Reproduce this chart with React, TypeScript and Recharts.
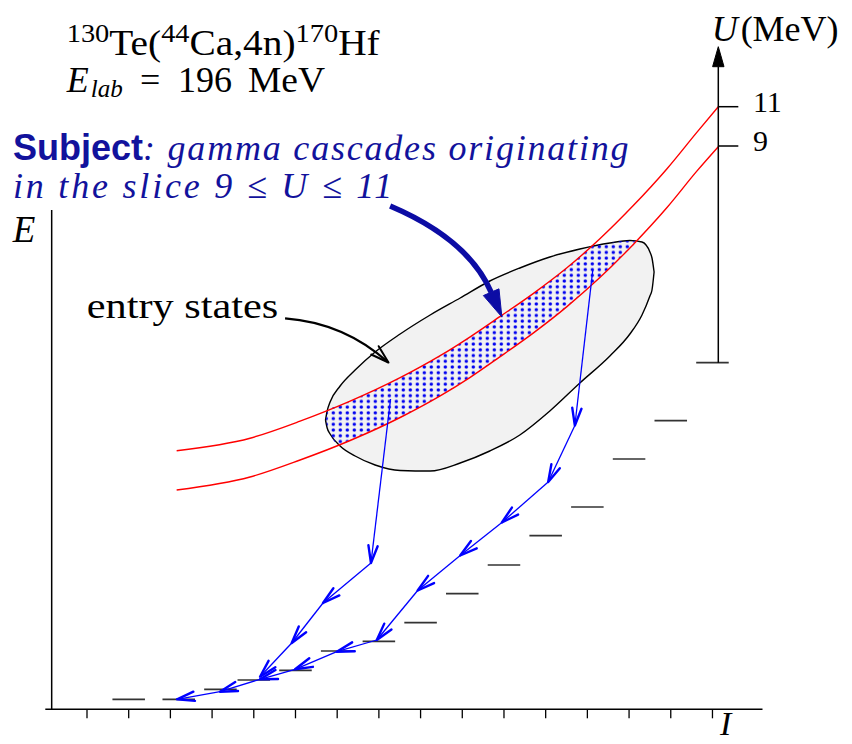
import {
  ComposedChart,
  XAxis,
  YAxis,
  Area,
  Line,
  ReferenceLine,
  ReferenceDot,
} from 'recharts'

// spin axis ticks
const spinTicks = [1, 2, 3, 4, 5, 6, 7, 8, 9, 10, 11, 12, 13, 14, 15, 16]

// yrast-like levels (spin I, energy E)
const levelI = [2, 3.2, 4.2, 5, 6, 7, 8, 9, 10, 11, 12, 13, 14, 15, 16]
const levelE = [1.0, 1.0, 2.0, 2.93, 3.9, 5.83, 6.8, 8.66, 11.56, 14.43, 17.36, 20.23, 25.03, 28.86, 34.66]

// constant-U contours, U = 11 and U = 9
const contourI = [3.15, 4.91, 6.11, 7.31, 8.51, 9.47, 10.19, 10.9, 11.7, 12.51, 13.3, 14.09, 14.91, 15.63, 16.14]
const contourU11 = [25.86, 27.11, 28.81, 30.81, 33.16, 35.36, 37.25, 39.26, 41.57, 44.15, 47.05, 50.32, 54.06, 57.72, 60.26]
const contourU9 = [21.93, 23.23, 24.93, 26.88, 29.18, 31.34, 33.2, 35.24, 37.62, 40.27, 43.17, 46.44, 50.18, 53.84, 56.26]

// entry-state population outline
const entryI = [6.72, 6.76, 6.83, 7.07, 7.43, 7.91, 8.51, 9.23, 9.95, 10.66, 11.38, 12.1, 12.82, 13.54, 14.02, 14.31, 14.5, 14.55, 14.6]
const entryTop = [28.93, 29.83, 30.73, 32.33, 33.93, 35.73, 37.53, 39.43, 41.13, 42.83, 44.13, 45.23, 46.03, 46.63, 46.88, 46.73, 45.73, 45.13, 43.73]
const entryBottom = [28.93, 28.13, 27.53, 26.33, 25.33, 24.43, 23.88, 23.83, 24.63, 25.83, 27.43, 29.83, 32.63, 35.33, 37.53, 39.43, 41.33, 41.93, 43.73]

// part of the entry region inside the 9 <= U <= 11 slice
const sliceI = [6.73, 6.78, 7.04, 7.55, 8.51, 9.47, 10.19, 10.9, 11.7, 12.51, 13.01, 13.11, 13.54, 13.9, 14.21]
const sliceTop = [28.93, 29.93, 30.37, 31.28, 33.16, 35.36, 37.25, 39.26, 41.57, 44.15, 46.0, 46.3, 46.63, 46.83, 46.78]
const sliceBottom = [28.93, 28.03, 26.53, 27.34, 29.18, 31.34, 33.2, 35.24, 37.62, 40.27, 42.12, 42.47, 44.16, 45.65, 46.78]

// gamma cascades, [I, E] of each state passed through
const cascadeA: [number, number][] = [[8.28, 31.03], [7.81, 14.63], [6.66, 10.63], [5.91, 6.63], [5.15, 3.26]]
const cascadeB: [number, number][] = [
  [13.13, 43.93], [12.7, 28.38], [12.06, 22.73], [10.95, 18.68], [9.95, 15.38], [8.93, 11.88],
  [7.95, 6.93], [6.99, 5.76], [5.99, 4.0], [5.15, 3.0], [4.19, 1.76], [3.16, 1.0],
]

// U scale drawn at the top level
const uAxisI = 16.14
const uAxisFrom = 34.66
const uAxisTo = 66.26
const uTickLabels = ['11', '9']
const uTickE = [60.26, 56.33]

const levelHalf = 0.39

const upperData = contourI.map((I, i) => ({ I, E: contourU11[i] }))
const lowerData = contourI.map((I, i) => ({ I, E: contourU9[i] }))
const entryData = entryI.map((I, i) => ({ I, range: [entryBottom[i], entryTop[i]] }))
const sliceData = sliceI.map((I, i) => ({ I, range: [sliceBottom[i], sliceTop[i]] }))

const serif = '"Liberation Serif", "Times New Roman", serif'
const sans = '"Liberation Sans", Arial, sans-serif'
const navy = '#12129c'

type ArrowStyle = {
  color: string
  width: number
  head: number
  spread?: number
  barb?: number
  halfWidth?: number
  filled?: boolean
  bend?: number
}

function makeArrow(s: ArrowStyle) {
  return function ArrowShape(p: any) {
    const { x1, y1, x2, y2 } = p
    const bend = s.bend ?? 0
    const cx = (x1 + x2) / 2 + bend * (y2 - y1)
    const cy = (y1 + y2) / 2 - bend * (x2 - x1)
    const tx = x2 - cx
    const ty = y2 - cy
    const len = Math.hypot(tx, ty) || 1
    const ux = tx / len
    const uy = ty / len
    if (s.filled) {
      const bx = x2 - s.head * ux
      const by = y2 - s.head * uy
      const hw = s.halfWidth ?? 5
      const head = `${x2},${y2} ${bx - hw * uy},${by + hw * ux} ${bx + hw * uy},${by - hw * ux}`
      return (
        <g>
          <path d={`M${x1},${y1} Q${cx},${cy} ${bx},${by}`} fill="none" stroke={s.color} strokeWidth={s.width} />
          <polygon points={head} fill={s.color} stroke={s.color} strokeWidth={1} strokeLinejoin="round" />
        </g>
      )
    }
    const a = ((s.spread ?? 15) * Math.PI) / 180
    const barb = (sign: number) => {
      const rx = ux * Math.cos(a) - sign * uy * Math.sin(a)
      const ry = sign * ux * Math.sin(a) + uy * Math.cos(a)
      return `M${x2},${y2} L${x2 - s.head * rx},${y2 - s.head * ry}`
    }
    return (
      <g>
        <path d={`M${x1},${y1} Q${cx},${cy} ${x2},${y2}`} fill="none" stroke={s.color} strokeWidth={s.width} />
        <path d={`${barb(1)} ${barb(-1)}`} fill="none" stroke={s.color} strokeWidth={s.barb ?? s.width} strokeLinecap="round" />
      </g>
    )
  }
}

const gammaArrow = makeArrow({ color: '#0000ff', width: 1.3, head: 18, spread: 15, barb: 2.4 })
const entryArrow = makeArrow({ color: '#000', width: 2.2, head: 19, spread: 17, barb: 2, bend: 0.17 })
const subjectArrow = makeArrow({ color: '#0c0ca4', width: 5.5, head: 27, halfWidth: 8.5, filled: true, bend: 0.2 })
const uArrow = makeArrow({ color: '#000', width: 1.5, head: 20, halfWidth: 5.7, filled: true })

function transitions(path: [number, number][]) {
  return path.slice(1).map((to, i) => ({ from: path[i], to }))
}

const textAt = (render: (x: number, y: number) => React.ReactNode) =>
  function TextShape(p: any) {
    return <g>{render(p.cx, p.cy)}</g>
  }

export default function App() {
  const gammas = [...transitions(cascadeA), ...transitions(cascadeB)]

  return (
    <div style={{ position: 'absolute', left: 0, top: 0, width: 852, height: 744, background: '#fff' }}>
      <ComposedChart
        width={852}
        height={744}
        margin={{ top: 9.3, right: 89.5, bottom: 4.7, left: 45.3 }}
      >
        <defs>
          <pattern id="slice-dots" patternUnits="userSpaceOnUse" x={0.8} y={3.15} width={7} height={5.73}>
            <circle cx={3.5} cy={2.86} r={1.75} fill="#0000f0" />
          </pattern>
        </defs>
        <XAxis
          type="number"
          dataKey="I"
          domain={[0, 17.2]}
          ticks={spinTicks}
          interval={0}
          tickFormatter={() => ''}
          tickSize={9}
          height={30}
          axisLine={{ stroke: '#000', strokeWidth: 1.5 }}
          tickLine={{ stroke: '#000', strokeWidth: 1.3 }}
          allowDataOverflow
        />
        <YAxis type="number" domain={[0, 70]} hide allowDataOverflow />

        <Area
          data={entryData}
          dataKey="range"
          type="monotone"
          stroke="#000"
          strokeWidth={1.4}
          fill="#f2f2f2"
          fillOpacity={1}
          dot={false}
          activeDot={false}
          isAnimationActive={false}
        />
        <Area
          data={sliceData}
          dataKey="range"
          type="monotone"
          stroke="none"
          fill="url(#slice-dots)"
          fillOpacity={1}
          dot={false}
          activeDot={false}
          isAnimationActive={false}
        />
        <Line data={upperData} dataKey="E" type="monotone" stroke="#ff0000" strokeWidth={1.4} dot={false} activeDot={false} isAnimationActive={false} />
        <Line data={lowerData} dataKey="E" type="monotone" stroke="#ff0000" strokeWidth={1.4} dot={false} activeDot={false} isAnimationActive={false} />

        {/* E axis */}
        <ReferenceLine segment={[{ x: 0.153, y: 0 }, { x: 0.153, y: 49.93 }]} stroke="#000" strokeWidth={1.5} />

        {levelI.map((I, i) => (
          <ReferenceLine
            key={`lvl-${i}`}
            segment={[{ x: I - levelHalf, y: levelE[i] }, { x: I + levelHalf, y: levelE[i] }]}
            stroke="#333"
            strokeWidth={1.7}
          />
        ))}

        {/* U scale */}
        <ReferenceLine segment={[{ x: uAxisI, y: uAxisFrom }, { x: uAxisI, y: uAxisTo }]} shape={uArrow} />
        {uTickE.map((E, i) => (
          <ReferenceLine
            key={`ut-${i}`}
            segment={[{ x: uAxisI, y: E }, { x: uAxisI + 0.48, y: E }]}
            stroke="#000"
            strokeWidth={1.5}
          />
        ))}

        {gammas.map((g, i) => (
          <ReferenceLine
            key={`g-${i}`}
            segment={[{ x: g.from[0], y: g.from[1] }, { x: g.to[0], y: g.to[1] }]}
            shape={gammaArrow}
          />
        ))}

        <ReferenceLine segment={[{ x: 5.75, y: 39.1 }, { x: 8.23, y: 34.68 }]} shape={entryArrow} />
        <ReferenceLine segment={[{ x: 8.27, y: 50.33 }, { x: 10.95, y: 39.23 }]} shape={subjectArrow} />

        <ReferenceDot
          x={0.513}
          y={65.43}
          r={0}
          ifOverflow="visible"
          shape={textAt((x, y) => (
            <text x={x} y={y} fontFamily={serif} fontSize={36} fill="#000" textLength={313} lengthAdjust="spacingAndGlyphs">
              <tspan dy={-13} fontSize={26}>130</tspan>
              <tspan dy={13}>Te(</tspan>
              <tspan dy={-13} fontSize={26}>44</tspan>
              <tspan dy={13}>Ca,4n)</tspan>
              <tspan dy={-13} fontSize={26}>170</tspan>
              <tspan dy={13}>Hf</tspan>
            </text>
          ))}
        />
        <ReferenceDot
          x={0.513}
          y={61.76}
          r={0}
          ifOverflow="visible"
          shape={textAt((x, y) => (
            <text x={x} y={y} fontFamily={serif} fontSize={36} fill="#000">
              <tspan fontStyle="italic">E</tspan>
              <tspan x={x + 24} dy={5} fontSize={25} fontStyle="italic">lab</tspan>
              <tspan x={x + 73.3} dy={-5}>=</tspan>
              <tspan x={x + 111.3}>196</tspan>
              <tspan x={x + 181.3} textLength={77} lengthAdjust="spacingAndGlyphs">MeV</tspan>
            </text>
          ))}
        />
        <ReferenceDot
          x={-0.775}
          y={54.93}
          r={0}
          ifOverflow="visible"
          shape={textAt((x, y) => (
            <>
              <text x={x} y={y} fontFamily={sans} fontWeight={700} fontSize={36} fill={navy}>Subject</text>
              <text
                x={x + 130}
                y={y}
                fontFamily={serif}
                fontStyle="italic"
                fontSize={36}
                fill={navy}
                letterSpacing={1.8}
              >
                : gamma cascades originating
              </text>
            </>
          ))}
        />
        <ReferenceDot
          x={-0.775}
          y={51.18}
          r={0}
          ifOverflow="visible"
          shape={textAt((x, y) => (
            <text
              x={x}
              y={y}
              fontFamily={serif}
              fontStyle="italic"
              fontSize={36}
              fill={navy}
              letterSpacing={2.8}
            >
              in the slice 9 ≤ U ≤ 11
            </text>
          ))}
        />
        <ReferenceDot
          x={0.993}
          y={39.1}
          r={0}
          ifOverflow="visible"
          shape={textAt((x, y) => (
            <text x={x} y={y} fontFamily={serif} fontSize={36} fill="#000" textLength={191.6} lengthAdjust="spacingAndGlyphs">
              entry states
            </text>
          ))}
        />
        <ReferenceDot
          x={-0.782}
          y={46.76}
          r={0}
          ifOverflow="visible"
          shape={textAt((x, y) => (
            <text x={x} y={y} fontFamily={serif} fontStyle="italic" fontSize={37} fill="#000">E</text>
          ))}
        />
        <ReferenceDot
          x={16.18}
          y={-2.6}
          r={0}
          ifOverflow="visible"
          shape={textAt((x, y) => (
            <text x={x} y={y} fontFamily={serif} fontStyle="italic" fontSize={34} fill="#000">I</text>
          ))}
        />
        <ReferenceDot
          x={15.98}
          y={66.83}
          r={0}
          ifOverflow="visible"
          shape={textAt((x, y) => (
            <text x={x} y={y} fontFamily={serif} fontSize={36} fill="#000">
              <tspan fontStyle="italic">U</tspan>
              <tspan x={x + 29}>(MeV)</tspan>
            </text>
          ))}
        />
        {uTickE.map((E, i) => (
          <ReferenceDot
            key={`ul-${i}`}
            x={16.97}
            y={E - 0.5}
            r={0}
            ifOverflow="visible"
            shape={textAt((x, y) => (
              <text x={x} y={y} fontFamily={serif} fontSize={30} fill="#000">{uTickLabels[i]}</text>
            ))}
          />
        ))}
      </ComposedChart>
    </div>
  )
}
